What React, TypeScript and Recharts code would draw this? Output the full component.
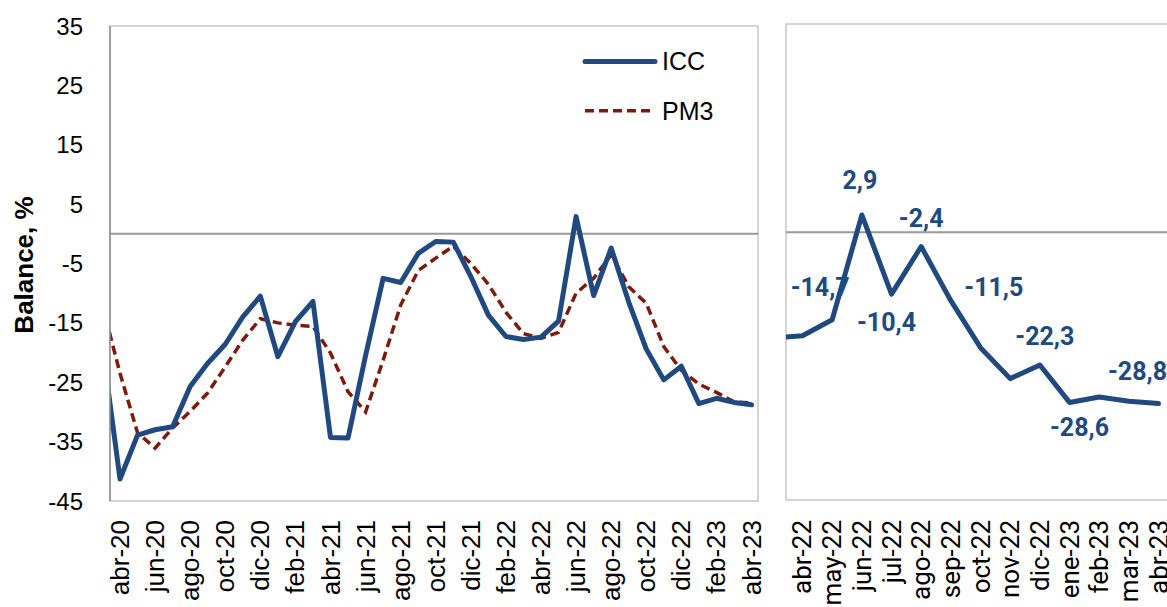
import React from 'react';
import { LineChart, Line, XAxis, YAxis, ReferenceLine, ReferenceArea, LabelList } from 'recharts';

const months = [
  'mar-20', 'abr-20', 'may-20', 'jun-20', 'jul-20', 'ago-20', 'sep-20', 'oct-20', 'nov-20', 'dic-20',
  'ene-21', 'feb-21', 'mar-21', 'abr-21', 'may-21', 'jun-21', 'jul-21', 'ago-21', 'sep-21', 'oct-21',
  'nov-21', 'dic-21', 'ene-22', 'feb-22', 'mar-22', 'abr-22', 'may-22', 'jun-22', 'jul-22', 'ago-22',
  'sep-22', 'oct-22', 'nov-22', 'dic-22', 'ene-23', 'feb-23', 'mar-23', 'abr-23',
];

const iccValues = [
  -19.0, -41.3, -33.9, -33.0, -32.5, -25.7, -21.8, -18.6, -14.0, -10.5,
  -20.7, -14.8, -11.4, -34.3, -34.4, -20.5, -7.5, -8.2, -3.3, -1.3,
  -1.4, -7.2, -13.7, -17.3, -17.8, -17.4, -14.7, 2.9, -10.4, -2.4,
  -11.5, -19.4, -24.6, -22.3, -28.6, -27.7, -28.4, -28.8,
];

const pm3Values = [
  -12.0, -23.5, -33.5, -36.1, -32.7, -29.9, -26.8, -22.4, -17.9, -14.3,
  -15.0, -15.4, -15.6, -20.1, -26.6, -30.0, -21.3, -12.0, -6.2, -4.1,
  -2.1, -5.0, -8.5, -13.2, -16.8, -17.6, -16.6, -10.0, -7.5, -3.5,
  -8.9, -11.7, -19.0, -23.0, -25.3, -26.7, -28.3, -28.5,
];

const yTicks = [-45, -35, -25, -15, -5, 5, 15, 25, 35];
const rightFirstMonth = 'mar-22';
const labeledMonths = ['may-22', 'jun-22', 'jul-22', 'ago-22', 'sep-22', 'dic-22', 'ene-23', 'abr-23'];

// label placement (px offsets from the point)
const labelOffsets: Record<string, [number, number]> = {
  'may-22': [-12, -32],
  'jun-22': [-2, -34],
  'jul-22': [-5, 28],
  'ago-22': [0, -28],
  'sep-22': [43, -13],
  'dic-22': [5, -28],
  'ene-23': [10, 25],
  'abr-23': [-21, -32],
};

const NAVY = '#204A7F';
const RED = '#7C1A0C';
const ARIAL = '"Liberation Sans", Arial, sans-serif';
const ROBOTO = 'Roboto, "Liberation Sans", sans-serif';

const leftData = months.map((m, k) => ({ i: k - 1, month: m, icc: iccValues[k], pm3: pm3Values[k] }));
const leftTicks = leftData.filter((d) => d.i >= 0 && d.i % 2 === 0).map((d) => d.i);

const rStart = months.indexOf(rightFirstMonth);
const rightData = months.slice(rStart).map((m, k) => ({
  i: k - 1,
  month: m,
  icc: iccValues[rStart + k],
  lbl: labeledMonths.includes(m) ? iccValues[rStart + k].toFixed(1).replace('.', ',') : '',
}));
const rightTicks = rightData.filter((d) => d.i >= 0).map((d) => d.i);

const monthAt = (data: { i: number; month: string }[], i: number) => {
  const d = data.find((e) => e.i === i);
  return d ? d.month : '';
};

const LeftTick = (props: any) => {
  const { x, y, payload } = props;
  return (
    <text
      transform={`translate(${x},${y}) rotate(-90)`}
      textAnchor="end"
      dominantBaseline="central"
      fontSize={26}
      fontFamily={ARIAL}
      fill="#000"
    >
      {monthAt(leftData, payload.value)}
    </text>
  );
};

const RightTick = (props: any) => {
  const { x, y, payload } = props;
  return (
    <text
      transform={`translate(${x},${y}) rotate(-90)`}
      textAnchor="end"
      dominantBaseline="central"
      fontSize={26}
      fontFamily={ROBOTO}
      fill="#000"
    >
      {monthAt(rightData, payload.value)}
    </text>
  );
};

const renderLabel = (props: any) => {
  const { x, y, value, index } = props;
  if (!value) return null;
  const d = rightData[index];
  const off = d ? labelOffsets[d.month] : undefined;
  if (!off) return null;
  return (
    <text
      x={Number(x) + off[0]}
      y={Number(y) + off[1]}
      textAnchor="middle"
      dominantBaseline="central"
      fontSize={25}
      fontWeight={700}
      fontFamily={ROBOTO}
      fill={NAVY}
    >
      {value}
    </text>
  );
};

export default function App() {
  const leftDomain: [number, number] = [-0.57, 36.37];
  const rightDomain: [number, number] = [-0.556, 13.06];
  return (
    <div style={{ position: 'absolute', left: 0, top: 0, width: 1167, height: 607, overflow: 'hidden', background: '#fff' }}>
      <div style={{ position: 'absolute', left: 0, top: 0 }}>
        <LineChart width={770} height={607} data={leftData} margin={{ top: 26, right: 12, bottom: 46, left: 50 }}>
          <ReferenceArea
            x1={leftDomain[0]}
            x2={leftDomain[1]}
            y1={-45}
            y2={35}
            fill="none"
            fillOpacity={0}
            stroke="#c8c8c8"
            strokeWidth={1.5}
            ifOverflow="visible"
          />
          <XAxis
            type="number"
            dataKey="i"
            domain={leftDomain}
            allowDataOverflow
            ticks={leftTicks}
            interval={0}
            height={60}
            axisLine={false}
            tickLine={false}
            tickSize={0}
            tickMargin={19}
            tick={<LeftTick />}
          />
          <YAxis
            type="number"
            domain={[-45, 35]}
            allowDataOverflow
            ticks={yTicks}
            interval={0}
            width={60}
            axisLine={{ stroke: '#8c8c8c', strokeWidth: 1.5 }}
            tickLine={false}
            tickSize={0}
            tickMargin={27}
            tick={{ fontSize: 24, fill: '#000', fontFamily: ARIAL }}
          />
          <ReferenceLine y={0} stroke="#9a9a9a" strokeWidth={2} ifOverflow="visible" />
          <Line
            type="linear"
            dataKey="pm3"
            stroke={RED}
            strokeWidth={3.5}
            strokeDasharray="9 5"
            dot={false}
            activeDot={false}
            isAnimationActive={false}
          />
          <Line
            type="linear"
            dataKey="icc"
            stroke={NAVY}
            strokeWidth={5}
            strokeLinejoin="round"
            strokeLinecap="round"
            dot={false}
            activeDot={false}
            isAnimationActive={false}
          />
        </LineChart>
      </div>

      <div style={{ position: 'absolute', left: 700, top: 0 }}>
        <LineChart width={490} height={607} data={rightData} margin={{ top: 24, right: 0, bottom: 47, left: 86 }}>
          <ReferenceArea
            x1={rightDomain[0]}
            x2={rightDomain[1]}
            y1={-45}
            y2={35}
            fill="none"
            fillOpacity={0}
            stroke="#c8c8c8"
            strokeWidth={1.5}
            ifOverflow="visible"
          />
          <XAxis
            type="number"
            dataKey="i"
            domain={rightDomain}
            allowDataOverflow
            ticks={rightTicks}
            interval={0}
            height={60}
            axisLine={false}
            tickLine={false}
            tickSize={0}
            tickMargin={20}
            tick={<RightTick />}
          />
          <YAxis type="number" domain={[-45, 35]} allowDataOverflow hide />
          <ReferenceLine y={0} stroke="#9a9a9a" strokeWidth={2} ifOverflow="visible" />
          <Line
            type="linear"
            dataKey="icc"
            stroke={NAVY}
            strokeWidth={5}
            strokeLinejoin="round"
            strokeLinecap="round"
            dot={false}
            activeDot={false}
            isAnimationActive={false}
          >
            <LabelList dataKey="lbl" content={renderLabel} />
          </Line>
        </LineChart>
      </div>

      <svg style={{ position: 'absolute', left: 0, top: 0 }} width={60} height={607}>
        <text
          transform="translate(24,265) rotate(-90)"
          textAnchor="middle"
          dominantBaseline="central"
          fontSize={26}
          fontWeight={700}
          fontFamily={ARIAL}
          fill="#000"
        >
          Balance, %
        </text>
      </svg>

      <svg style={{ position: 'absolute', left: 575, top: 40 }} width={170} height={95}>
        <line x1={10} y1={21.5} x2={80} y2={21.5} stroke={NAVY} strokeWidth={5} strokeLinecap="round" />
        <text x={87} y={21} dominantBaseline="central" fontSize={25} fontFamily={ARIAL} fill="#000">ICC</text>
        <line x1={10} y1={70.7} x2={80} y2={70.7} stroke={RED} strokeWidth={3.5} strokeDasharray="9 5" />
        <text x={87} y={71} dominantBaseline="central" fontSize={25} fontFamily={ARIAL} fill="#000">PM3</text>
      </svg>
    </div>
  );
}
